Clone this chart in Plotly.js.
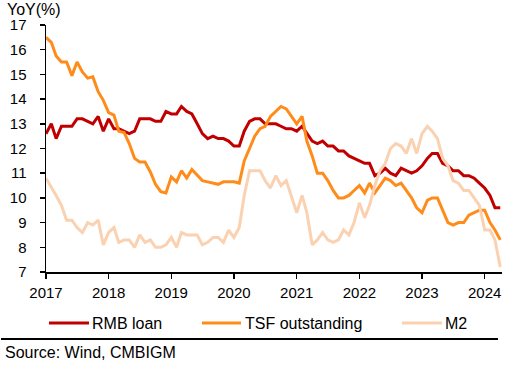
<!DOCTYPE html>
<html>
<head>
<meta charset="utf-8">
<script src="https://cdn.plot.ly/plotly-3.0.1.min.js"></script>
<style>html,body{margin:0;padding:0;background:#fff;}#chart{width:525px;height:374px;}</style>
</head>
<body>
<div id="chart"></div>
<script>
// Monthly YoY growth (%), Jan 2017 – Apr 2024
var startYear = 2017;
var startMonth = 1;

var rmbLoan = [
  12.6, 13.0, 12.4, 12.9, 12.9, 12.9, 13.2, 13.2, 13.1, 13.0, 13.3, 12.7,
  13.2, 12.8, 12.8, 12.7, 12.6, 12.7, 13.2, 13.2, 13.2, 13.1, 13.1, 13.5,
  13.4, 13.4, 13.7, 13.5, 13.4, 13.0, 12.6, 12.4, 12.5, 12.4, 12.4, 12.3,
  12.1, 12.1, 12.7, 13.1, 13.2, 13.2, 13.0, 13.0, 13.0, 12.9, 12.8, 12.8,
  12.7, 12.9, 12.6, 12.3, 12.2, 12.3, 12.1, 12.1, 11.9, 11.9, 11.7, 11.6,
  11.5, 11.4, 11.4, 10.9, 11.0, 11.2, 11.0, 10.9, 11.2, 11.1, 11.0, 11.1,
  11.3, 11.6, 11.8, 11.8, 11.4, 11.3, 11.1, 11.1, 10.9, 10.9, 10.8, 10.6,
  10.4, 10.1, 9.6, 9.6
];

var tsfOutstanding = [
  16.5, 16.3, 15.75, 15.5, 15.5, 14.95, 15.5, 15.1, 14.85, 14.9, 14.3, 13.95,
  13.45, 13.35, 12.7, 12.65, 12.2, 11.6, 11.45, 11.45, 11.05, 10.55, 10.25, 10.2,
  10.85, 10.65, 11.1, 10.8, 11.15, 10.9, 10.7, 10.65, 10.6, 10.55, 10.65, 10.65,
  10.65, 10.6, 11.5, 12.0, 12.5, 12.8, 12.9, 13.3, 13.5, 13.7, 13.6, 13.3,
  13.0, 13.3, 12.3, 11.7, 11.0, 11.0, 10.7, 10.3, 10.0, 10.0, 10.1, 10.3,
  10.5, 10.2, 10.6, 10.2, 10.5, 10.8, 10.7, 10.5, 10.6, 10.3, 10.0, 9.6,
  9.4, 9.9, 10.0, 10.0, 9.5, 9.0, 8.9, 9.0, 9.0, 9.3, 9.4, 9.5,
  9.5, 9.0, 8.7, 8.3
];

var m2 = [
  10.8, 10.45, 10.1, 9.7, 9.1, 9.1, 8.8, 8.6, 9.0, 8.9, 9.1, 8.1,
  8.6, 8.8, 8.2, 8.3, 8.3, 8.0, 8.5, 8.2, 8.3, 8.0, 8.0, 8.1,
  8.4, 8.0, 8.6, 8.5, 8.5, 8.5, 8.1, 8.2, 8.4, 8.4, 8.2, 8.7,
  8.4, 8.8, 10.1, 11.1, 11.1, 11.1, 10.7, 10.4, 10.9, 10.5, 10.7, 10.1,
  9.4, 10.1, 9.4, 8.1, 8.3, 8.6, 8.3, 8.2, 8.3, 8.7, 8.5, 9.0,
  9.8, 9.2, 9.7, 10.5, 11.1, 11.4, 12.0, 12.2, 12.1, 11.8, 12.4, 11.8,
  12.6, 12.9, 12.7, 12.4, 11.6, 11.3, 10.7, 10.6, 10.3, 10.3, 10.0, 9.7,
  8.7, 8.7, 8.3, 7.2
];

var seriesNames = ['RMB loan', 'TSF outstanding', 'M2'];
var seriesColors = ['#C00000', '#FF8C1A', '#FAD1B1'];
var yearTickLabels = ['2017', '2018', '2019', '2020', '2021', '2022', '2023', '2024'];
var yTickLabels = ['7', '8', '9', '10', '11', '12', '13', '14', '15', '16', '17'];
var yAxisTitle = 'YoY(%)';
var sourceText = 'Source: Wind, CMBIGM';

function pad(n) { return (n < 10 ? '0' : '') + n; }
var months = [];
for (var i = 0; i < rmbLoan.length; i++) {
  var mm = startMonth - 1 + i;
  var y = startYear + Math.floor(mm / 12);
  var mo = (mm % 12) + 1;
  months.push(y + '-' + pad(mo) + '-01');
}
var yearTickVals = yearTickLabels.map(function (t) { return t + '-01-01'; });
var yTickVals = yTickLabels.map(Number);

var FONT = 'Liberation Sans, Arial, Helvetica, sans-serif';

// plot area in pixels: x 46..502, y 25..272
var L = 46, R = 502, T = 25, B = 272;
function px(x) { return (x - L) / (R - L); }
function py(y) { return (B - y) / (B - T); }

var data = [rmbLoan, tsfOutstanding, m2].map(function (vals, k) {
  return {
    x: months, y: vals, type: 'scatter', mode: 'lines', name: seriesNames[k],
    line: { color: seriesColors[k], width: 3 }, hoverinfo: 'skip'
  };
});

var legendItems = [
  { x0: 49, x1: 89, tx: 90 },
  { x0: 202, x1: 241, tx: 243 },
  { x0: 402, x1: 442, tx: 443 }
];
var legendY = 323;

var shapes = legendItems.map(function (it, k) {
  return {
    type: 'line', xref: 'paper', yref: 'paper',
    x0: px(it.x0), x1: px(it.x1), y0: py(legendY), y1: py(legendY),
    line: { color: seriesColors[k], width: 3 }
  };
});
shapes.push({
  type: 'line', xref: 'paper', yref: 'paper',
  x0: px(1), x1: px(498), y0: py(339), y1: py(339),
  line: { color: '#000', width: 2 }
});

var annotations = legendItems.map(function (it, k) {
  return {
    xref: 'paper', yref: 'paper', x: px(it.tx), y: py(legendY),
    xanchor: 'left', yanchor: 'middle', showarrow: false,
    text: seriesNames[k], font: { family: FONT, size: 16, color: '#000' }
  };
});
annotations.push({
  xref: 'paper', yref: 'paper', x: px(5), y: py(10),
  xanchor: 'left', yanchor: 'middle', showarrow: false,
  text: yAxisTitle, font: { family: FONT, size: 16, color: '#000' }
});
annotations.push({
  xref: 'paper', yref: 'paper', x: px(3), y: py(352),
  xanchor: 'left', yanchor: 'middle', showarrow: false,
  text: sourceText, font: { family: FONT, size: 16, color: '#000' }
});

var layout = {
  width: 525, height: 374,
  margin: { l: L, r: 525 - R, t: T, b: 374 - B, pad: 0 },
  paper_bgcolor: '#fff', plot_bgcolor: '#fff',
  showlegend: false,
  font: { family: FONT, size: 15, color: '#000' },
  xaxis: {
    type: 'date', range: ['2017-01-01', '2024-04-11'],
    tickmode: 'array', tickvals: yearTickVals, ticktext: yearTickLabels,
    ticks: 'outside', ticklen: 5, tickwidth: 1.5, tickcolor: '#000',
    showline: true, linecolor: '#000', linewidth: 1.5,
    showgrid: false, zeroline: false,
    tickfont: { family: FONT, size: 15, color: '#000' },
    ticklabelstandoff: 1, fixedrange: true
  },
  yaxis: {
    range: [7, 17],
    tickmode: 'array', tickvals: yTickVals, ticktext: yTickLabels,
    ticks: 'outside', ticklen: 5, tickwidth: 1.5, tickcolor: '#000',
    showline: true, linecolor: '#000', linewidth: 1.5,
    showgrid: false, zeroline: false,
    tickfont: { family: FONT, size: 15, color: '#000' },
    ticklabelstandoff: 10, fixedrange: true
  },
  shapes: shapes,
  annotations: annotations
};

Plotly.newPlot('chart', data, layout, { displayModeBar: false, staticPlot: true });
</script>
</body>
</html>
